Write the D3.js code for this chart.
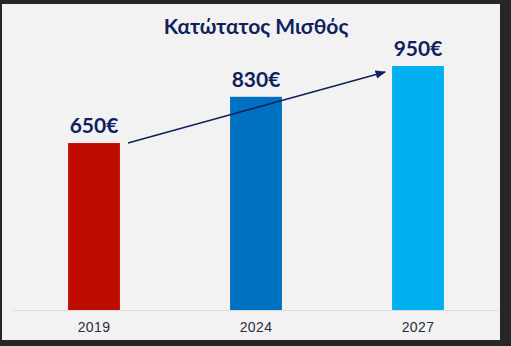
<!DOCTYPE html>
<html><head><meta charset="utf-8">
<script src="https://cdn.jsdelivr.net/npm/d3@7"></script>
<style>html,body{margin:0;padding:0;background:#262626;}svg{display:block;}</style>
</head><body>
<script>
const categories = ["2019", "2024", "2027"];
const values = [650, 830, 950];
const valueLabels = ["650€", "830€", "950€"];
const colors = ["#c00c00", "#0070c0", "#00b0f0"];
const title = "Κατώτατος Μισθός";

const W = 511, H = 346;
const svg = d3.select("body").append("svg").attr("width", W).attr("height", H);
svg.append("rect").attr("width", W).attr("height", H).attr("fill", "#262626");
svg.append("rect").attr("x", 2).attr("y", 4).attr("width", 498).attr("height", 336).attr("fill", "#f2f2f2");

const x = d3.scaleBand().domain(categories).range([13, 499]).paddingInner(0.68).paddingOuter(0.34);
const y = d3.scaleLinear().domain([0, 950]).range([310, 66]);

const navy = "#101f5e";

svg.append("text").attr("x", 256).attr("y", 34).attr("text-anchor", "middle")
  .attr("font-family", "Lato, 'Noto Sans', sans-serif").attr("font-weight", 700)
  .attr("font-size", 21).attr("fill", navy).text(title);

svg.selectAll("rect.bar").data(values).enter().append("rect").attr("class", "bar")
  .attr("x", (d, i) => x(categories[i])).attr("width", x.bandwidth())
  .attr("y", d => y(d)).attr("height", d => y(0) - y(d))
  .attr("fill", (d, i) => colors[i]);

svg.selectAll("text.val").data(values).enter().append("text").attr("class", "val")
  .attr("x", (d, i) => x(categories[i]) + x.bandwidth() / 2)
  .attr("y", d => y(d) - 10).attr("text-anchor", "middle")
  .attr("font-family", "Lato, 'Noto Sans', sans-serif").attr("font-weight", 700)
  .attr("font-size", 21).attr("fill", navy).text((d, i) => valueLabels[i]);

// axis
const axis = d3.axisBottom(x).tickSize(0).tickPadding(12);
const g = svg.append("g").attr("transform", `translate(0,${y(0)})`).call(axis);
g.select(".domain").attr("stroke", "#dcdcdc").attr("stroke-width", 1);
g.selectAll("text").attr("font-family", "'Liberation Sans', Arial, sans-serif").attr("font-size", 14)
  .attr("fill", "#2a2d3a").attr("letter-spacing", 0.4);

// arrow
const defs = svg.append("defs");
defs.append("marker").attr("id", "arr").attr("viewBox", "0 0 10 10").attr("refX", 9).attr("refY", 5)
  .attr("markerWidth", 7).attr("markerHeight", 7).attr("orient", "auto")
  .append("path").attr("d", "M0,1 L10,5 L0,9 z").attr("fill", navy);

const x0 = x(categories[0]) + x.bandwidth() + 8, y0 = y(values[0]);
const x1 = x(categories[2]) - 7, y1 = y(values[2]) + 6;
svg.append("line").attr("x1", x0).attr("y1", y0).attr("x2", x1).attr("y2", y1)
  .attr("stroke", navy).attr("stroke-width", 1.5).attr("marker-end", "url(#arr)");
</script>
</body></html>
